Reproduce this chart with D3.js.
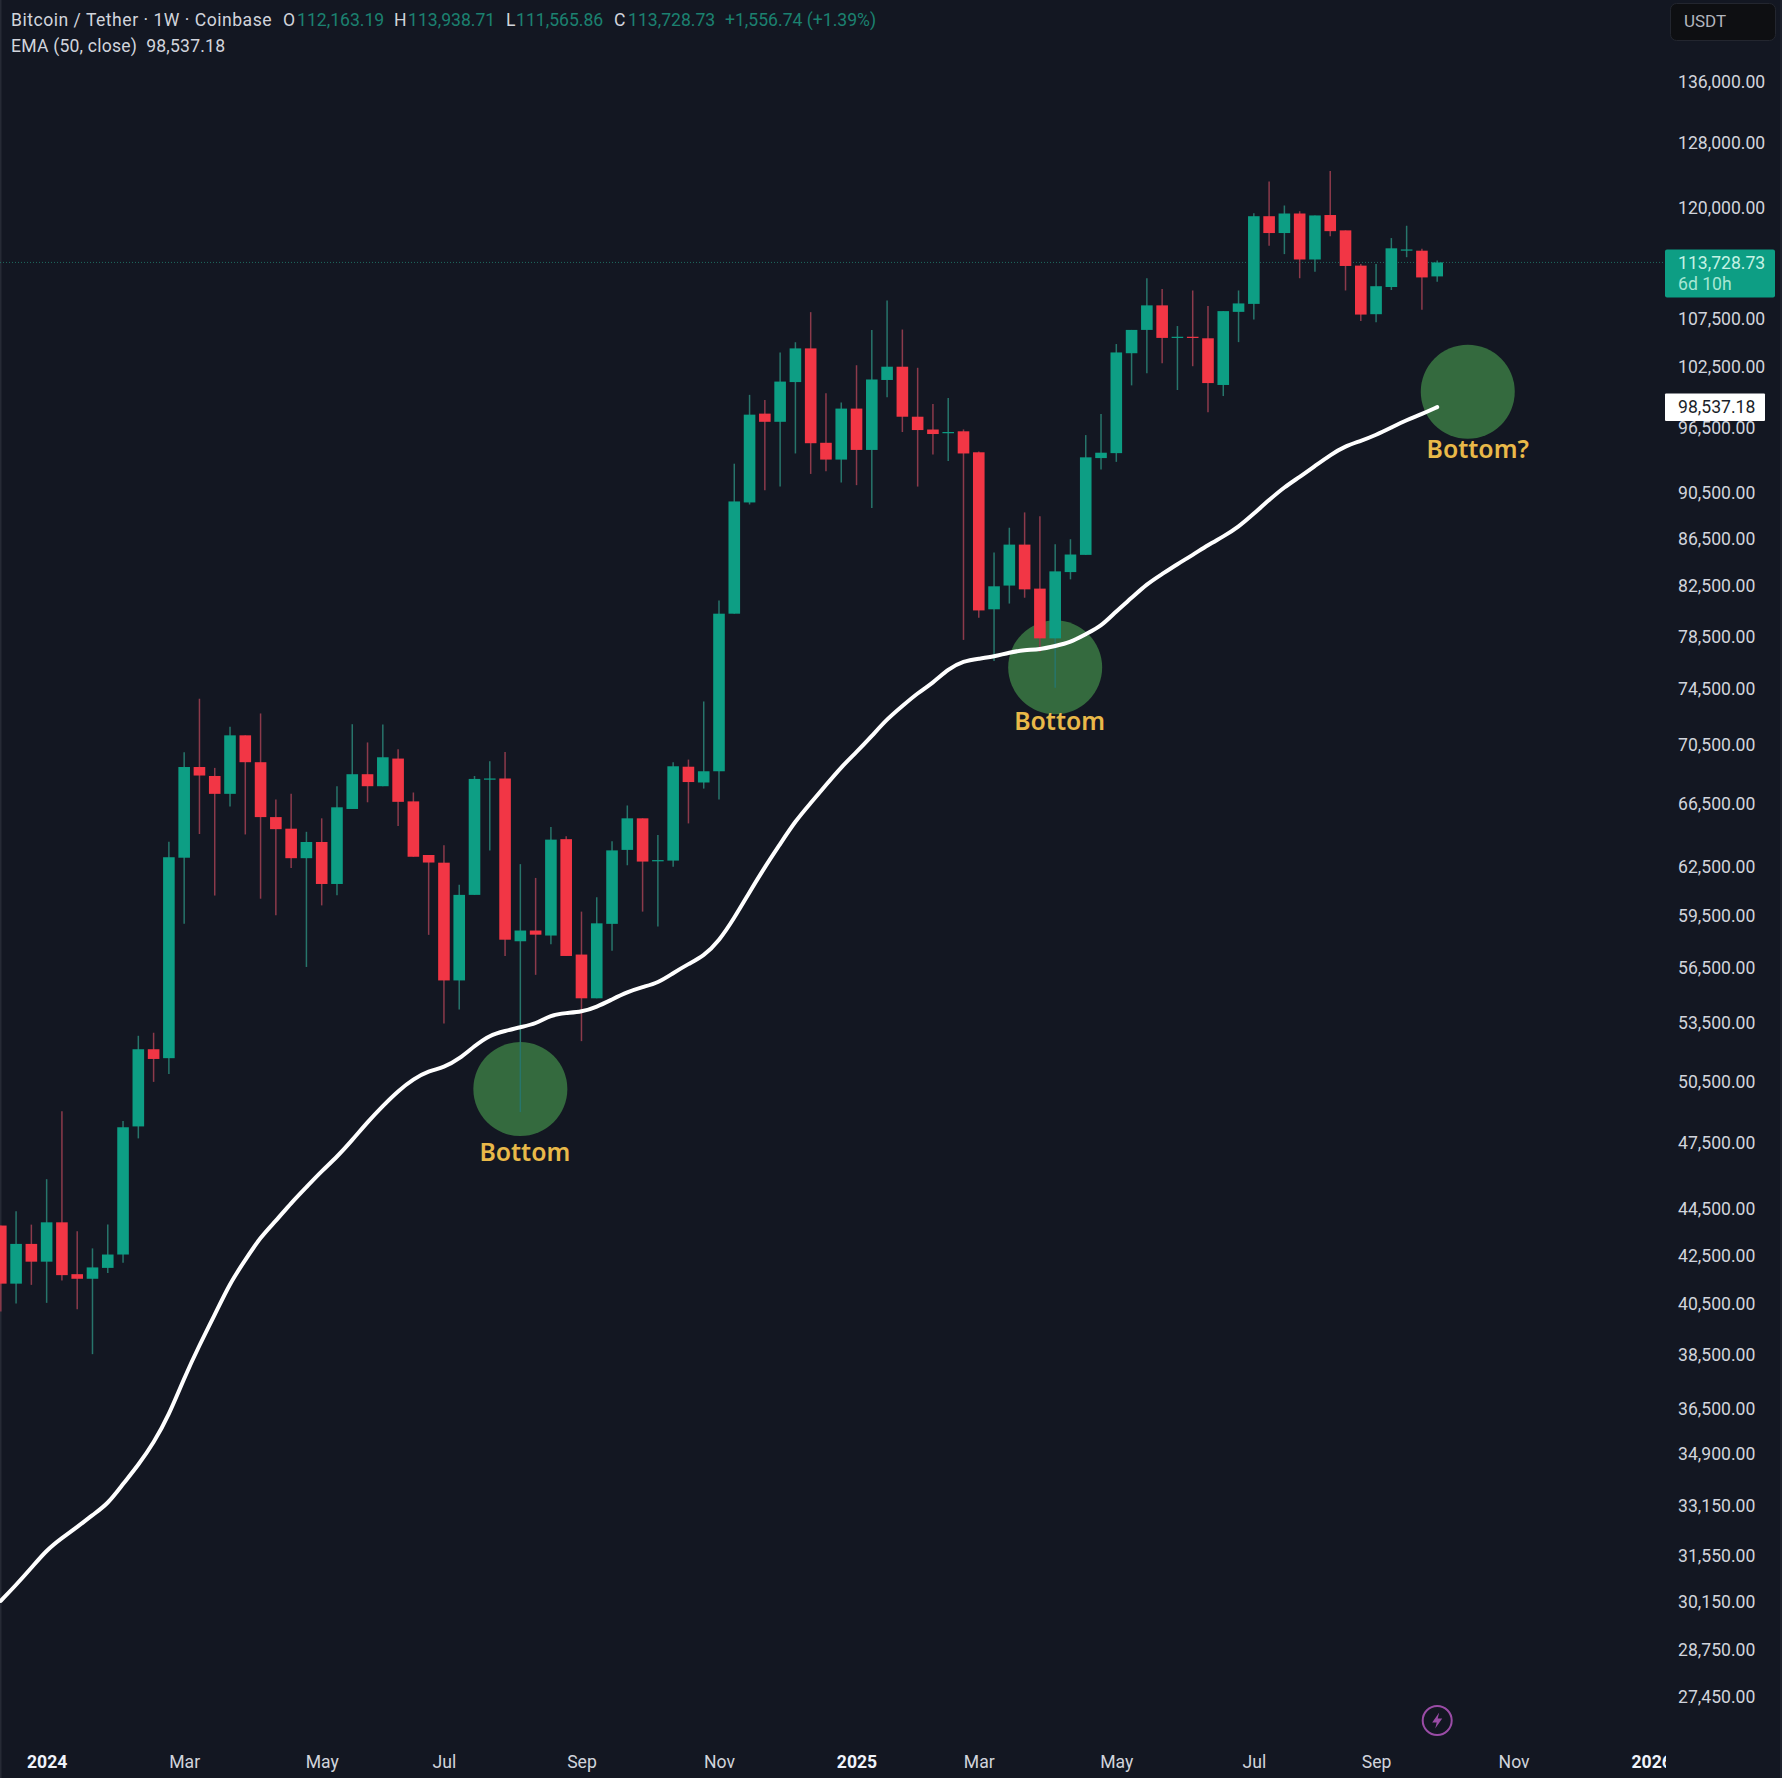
<!DOCTYPE html>
<html>
<head>
<meta charset="utf-8">
<script src="https://cdn.jsdelivr.net/npm/d3@7"></script>
<style>
  html, body { margin: 0; background: #131722; }
  svg { display: block; }
  text { font-family: Roboto, sans-serif; }
</style>
</head>
<body>
<div id="chart"></div>
<script>
// weekly bars, first one is the week of 11 Dec 2023
var firstWeek = new Date(Date.UTC(2023, 11, 11));

var opens = [43780,41330,42990,42240,43920,41720,41530,41980,42540,48300,52140,51680,63040,68970,68360,
  67160,71170,69300,65630,64880,63010,64030,61420,66160,68480,67670,69550,66660,63210,62730,
  55820,60760,68120,68190,58030,58650,58360,64210,57270,54840,59040,63530,65550,62830,62860,
  68990,67920,68680,80290,89650,97900,97110,101010,104440,95110,93540,98390,94440,101220,102560,
  97600,96370,96030,96200,94220,80640,82560,85980,82310,78350,83670,85110,93680,94140,103940,
  106370,108990,105570,105650,105490,100720,108290,109150,119060,117090,119380,114060,119200,117400,113370,
  108040,110990,115110,115060,112163.19];
var highs = [43780,44400,43820,45840,49030,43530,42800,43820,48560,52840,53000,64050,69980,73800,68910,
  71770,71170,72730,66780,67160,64680,65550,67670,71960,70670,71930,70200,67250,63210,63820,
  61380,68360,69370,70010,62640,61790,64990,64400,59760,60610,64080,66390,65550,64470,69300,
  69480,73600,81350,93160,99740,99240,104020,105080,108260,99900,98990,102710,106360,109530,106410,
  102450,98840,99440,96380,94290,85300,87430,88770,88430,86020,86440,95840,97860,104890,106370,
  111960,110780,106780,110610,108910,108370,110610,119420,123240,120330,119650,119150,124510,117400,113550,
  113550,116510,117940,115280,113938.71];
var lows = [40200,40520,41280,40550,41460,40290,38540,41770,42200,47730,50480,50870,59050,64540,60720,
  66330,64510,60530,59540,62400,56570,60130,60740,66160,66600,67670,65050,63100,58400,53490,
  54230,60760,63500,57190,48990,56130,57860,57190,52560,54840,57480,62570,59760,58890,62480,
  65220,67510,66790,80290,89470,90740,91070,94110,92220,92460,91440,91200,89150,99490,96130,
  91070,94010,93400,78230,79970,76620,81100,81570,77290,74610,83070,85110,92620,93330,100680,
  101910,102920,100220,102610,98040,99620,105090,107470,115630,114670,111960,112690,116730,110610,107310,
  107180,110660,114320,108530,111565.86];
var closes = [41330,42990,42240,43920,41680,41530,42000,42540,48260,52140,51640,63070,68970,68390,67160,
  71170,69300,65630,64850,63010,64030,61420,66270,68480,67670,69640,66630,63100,62740,55820,
  60760,68160,68190,58120,58650,58410,64180,57190,54840,59070,63500,65550,62800,62890,69020,
  67950,68680,80290,89740,97800,97110,101060,104440,95070,93540,98390,94440,101270,102560,97600,
  96320,95940,96130,94110,80550,82500,85980,82250,78350,83730,85140,93750,94180,104020,106370,
  108990,105530,105650,105570,100910,108370,109200,119060,117090,119380,114060,119150,117310,113330,108000,
  111080,115330,115200,112050,113728.73];
var ema50 = [30180,30660,31180,31740,32120,32470,32860,33220,33890,34530,35290,36280,37640,38890,40070,
  41360,42310,43290,43980,44770,45480,46210,46860,47650,48510,49290,50030,50620,51030,51200,
  51640,52310,52880,53090,53300,53460,53940,54050,54100,54370,54780,55180,55460,55680,56230,
  56740,57190,58040,59380,60930,62460,63900,65380,66550,67750,68970,70000,71120,72330,73270,
  74220,74960,76010,76610,76790,76950,77270,77450,77500,77760,78030,78690,79280,80500,81550,
  82690,83510,84340,85100,85950,86670,87490,88660,89870,91030,91940,92950,93970,94810,95280,
  95850,96560,97280,97860,98537.18];

var priceTicks = [136000,128000,120000,107500,102500,96500,90500,86500,82500,78500,74500,70500,66500,62500,
  59500,56500,53500,50500,47500,44500,42500,40500,38500,36500,34900,33150,31550,30150,28750,27450];

var timeTicks = ["2024-01-01","2024-03-04","2024-05-06","2024-07-01","2024-09-02","2024-11-04","2025-01-06",
  "2025-03-03","2025-05-05","2025-07-07","2025-09-01","2025-11-03","2026-01-05"];
var timeLabels = ["2024","Mar","May","Jul","Sep","Nov","2025","Mar","May","Jul","Sep","Nov","2026"];

// the three circles the author drew: bar number, price, caption
var notes = [
  {bar: 34, price: 50120, label: "Bottom"},
  {bar: 69, price: 76130, label: "Bottom"},
  {bar: 96, price: 100050, label: "Bottom?"}
];
// hand placed captions, not quite the same under each circle
var captionDx = [4.5, 4.5, 10];
var captionDy = [72, 63, 66];

var lastPrice = 113728.73;
var lastEma = 98537.18;

var width = 1782, height = 1778;
var green = "#0d9e84", red = "#f23645";
var labelSize = "17.6px";

var bars = opens.map(function(o, i) {
  return {date: d3.utcMonday.offset(firstWeek, i), o: o, h: highs[i], l: lows[i], c: closes[i], e: ema50[i]};
});

var x = d3.scaleUtc().domain([bars[0].date, bars[bars.length - 1].date]).range([0.8, 1437.2]);
var y = d3.scaleLog().domain([27450, 136000]).range([1696.5, 82]);

var svg = d3.select("#chart").append("svg").attr("width", width).attr("height", height);
svg.append("rect").attr("width", width).attr("height", height).attr("fill", "#131722");

// faint window edges
svg.append("rect").attr("x", 0).attr("width", 1.5).attr("height", height).attr("fill", "#262a35");
svg.append("rect").attr("x", 1780).attr("width", 2).attr("height", height).attr("fill", "#1e222d");

var defs = svg.append("defs");
defs.append("clipPath").attr("id", "plot").append("rect").attr("width", 1664).attr("height", height);

var plot = svg.append("g").attr("clip-path", "url(#plot)");

// circles go under the candles
plot.selectAll("circle.note").data(notes).join("circle")
  .attr("class", "note")
  .attr("cx", function(d) { return x(d3.utcMonday.offset(firstWeek, d.bar)); })
  .attr("cy", function(d) { return y(d.price); })
  .attr("r", 47)
  .attr("fill", "#346a3e");

// last price line
plot.append("line")
  .attr("x1", 0).attr("x2", 1664)
  .attr("y1", y(lastPrice)).attr("y2", y(lastPrice))
  .attr("stroke", "#1f6a60").attr("stroke-width", 1).attr("stroke-dasharray", "1 2");

plot.selectAll("line.wick").data(bars).join("line")
  .attr("class", "wick")
  .attr("x1", function(d) { return x(d.date); })
  .attr("x2", function(d) { return x(d.date); })
  .attr("y1", function(d) { return y(d.h); })
  .attr("y2", function(d) { return y(d.l); })
  .attr("stroke", function(d) { return d.c >= d.o ? "#27756b" : "#8c3a4b"; })
  .attr("stroke-width", 1.5);

plot.selectAll("rect.body").data(bars).join("rect")
  .attr("class", "body")
  .attr("x", function(d) { return x(d.date) - 5.8; })
  .attr("width", 11.6)
  .attr("y", function(d) { return y(Math.max(d.o, d.c)); })
  .attr("height", function(d) { return Math.max(1.2, Math.abs(y(d.o) - y(d.c))); })
  .attr("fill", function(d) { return d.c >= d.o ? green : red; });

var emaLine = d3.line()
  .curve(d3.curveBasis)
  .x(function(d) { return x(d.date); })
  .y(function(d) { return y(d.e); });

plot.append("path").datum(bars)
  .attr("d", emaLine)
  .attr("fill", "none")
  .attr("stroke", "#ffffff")
  .attr("stroke-width", 4)
  .attr("stroke-linecap", "round")
  .attr("stroke-linejoin", "round");

plot.selectAll("text.note").data(notes).join("text")
  .attr("class", "note")
  .attr("x", function(d, i) { return x(d3.utcMonday.offset(firstWeek, d.bar)) + captionDx[i]; })
  .attr("y", function(d, i) { return y(d.price) + captionDy[i]; })
  .attr("text-anchor", "middle")
  .attr("fill", "#e9b949")
  .style("font-family", "'Noto Sans', sans-serif")
  .style("font-size", "24.8px")
  .style("font-weight", 600)
  .text(function(d) { return d.label; });

// price axis, labels sit left aligned like on the original
var yAxis = d3.axisRight(y)
  .tickValues(priceTicks)
  .tickSize(0)
  .tickPadding(0)
  .tickFormat(d3.format(",.2f"));

var yG = svg.append("g").attr("transform", "translate(1678,0)").call(yAxis);
yG.select(".domain").remove();
yG.selectAll("text").attr("fill", "#d1d4dc").style("font-family", "Roboto, sans-serif").style("font-size", labelSize);

// time axis
defs.append("clipPath").attr("id", "timeClip").append("rect").attr("width", 1666).attr("height", height);

var xAxis = d3.axisBottom(x)
  .tickValues(timeTicks.map(function(d) { return new Date(d + "T00:00:00Z"); }))
  .tickSize(0)
  .tickPadding(0)
  .tickFormat(function(d, i) { return timeLabels[i]; });

var xG = svg.append("g").attr("clip-path", "url(#timeClip)")
  .append("g").attr("transform", "translate(0,1755)").call(xAxis);
xG.select(".domain").remove();
xG.selectAll("text")
  .attr("fill", function(d, i) { return timeLabels[i].length == 4 ? "#f0f3fa" : "#d1d4dc"; })
  .style("font-family", "Roboto, sans-serif")
  .style("font-size", labelSize)
  .style("font-weight", function(d, i) { return timeLabels[i].length == 4 ? 700 : 400; });

// current price tag
var tagLast = svg.append("g");
tagLast.append("rect").attr("x", 1665).attr("y", y(lastPrice) - 13).attr("width", 110).attr("height", 48)
  .attr("rx", 2).attr("fill", "#0d9e84");
tagLast.append("text").attr("x", 1678).attr("y", y(lastPrice) + 0.5).attr("dy", "0.32em")
  .attr("fill", "#c4f2e4").style("font-size", labelSize).text(d3.format(",.2f")(lastPrice));
tagLast.append("text").attr("x", 1678).attr("y", y(lastPrice) + 22).attr("dy", "0.32em")
  .attr("fill", "#a6e6d3").style("font-size", labelSize).text("6d 10h");

// EMA tag
var tagEma = svg.append("g");
tagEma.append("rect").attr("x", 1665).attr("y", y(lastEma) - 13.5).attr("width", 100).attr("height", 27.5)
  .attr("rx", 1).attr("fill", "#ffffff");
tagEma.append("text").attr("x", 1678).attr("y", y(lastEma)).attr("dy", "0.32em")
  .attr("fill", "#1b1f2a").style("font-size", labelSize).text(d3.format(",.2f")(lastEma));

// currency button
svg.append("rect").attr("x", 1670.5).attr("y", 3.5).attr("width", 105).attr("height", 37).attr("rx", 6)
  .attr("fill", "#0e0f12").attr("stroke", "#23262f");
svg.append("text").attr("x", 1684).attr("y", 22).attr("dy", "0.32em")
  .attr("fill", "#b2b5be").style("font-size", "17px").text("USDT");

// header, one text per piece so they line up with the original
var headerBits = [
  {x: 11, t: "Bitcoin / Tether · 1W · Coinbase", c: "#d1d4dc", s: 0.5},
  {x: 283, t: "O", c: "#d1d4dc", s: 0},
  {x: 297, t: "112,163.19", c: "#1b8170", s: 0},
  {x: 394, t: "H", c: "#d1d4dc", s: 0},
  {x: 408, t: "113,938.71", c: "#1b8170", s: 0},
  {x: 506, t: "L", c: "#d1d4dc", s: 0},
  {x: 516, t: "111,565.86", c: "#1b8170", s: 0},
  {x: 614, t: "C", c: "#d1d4dc", s: 0},
  {x: 628, t: "113,728.73", c: "#1b8170", s: 0},
  {x: 725, t: "+1,556.74 (+1.39%)", c: "#1b8170", s: 0}
];
svg.selectAll("text.head").data(headerBits).join("text")
  .attr("class", "head")
  .attr("x", function(d) { return d.x; })
  .attr("y", 20).attr("dy", "0.32em")
  .attr("fill", function(d) { return d.c; })
  .style("font-size", labelSize)
  .style("letter-spacing", function(d) { return d.s + "px"; })
  .text(function(d) { return d.t; });

svg.append("text").attr("x", 11).attr("y", 46).attr("dy", "0.32em")
  .attr("fill", "#d1d4dc").style("font-size", labelSize).style("letter-spacing", "0.2px")
  .style("white-space", "pre")
  .text("EMA (50, close)  98,537.18");

// small lightning badge above the time axis
var badge = svg.append("g").attr("transform", "translate(" + x(bars[94].date) + ",1720.5)");
badge.append("circle").attr("r", 14.5).attr("fill", "none").attr("stroke", "#9a4ca6").attr("stroke-width", 2);
badge.append("path").attr("d", "M2,-8 L-5,2 L-0.5,2 L-2,8 L5,-2 L0.5,-2 Z").attr("fill", "#9a4ca6");
</script>
</body>
</html>
